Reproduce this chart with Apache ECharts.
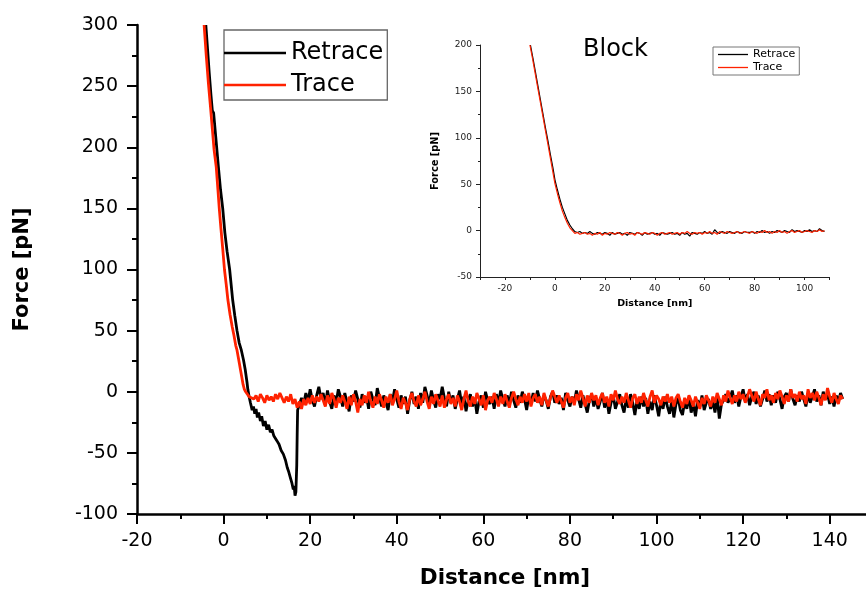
<!DOCTYPE html>
<html><head><meta charset="utf-8">
<script src="https://cdn.jsdelivr.net/npm/echarts@6/dist/echarts.min.js"></script>
<style>html,body{margin:0;padding:0;background:#fff}#c{width:866px;height:590px}</style>
</head><body><div id="c"></div>
<script>
// ---------- DATA ----------
// Main chart: approach part (distance nm, force pN)
const retraceApproach = [[-4.1,300],[-3.7,280],[-3.3,260],[-2.9,242],[-2.6,230],[-2.3,228],[-1.8,208],[-1.2,184],[-0.7,165],[-0.2,150],[0.3,130],[0.8,115],[1.4,100],[2.1,75],[2.6,62],[3.1,50],[3.6,40],[4.1,34],[4.6,26],[5.0,18],[5.4,8],[5.6,2],[5.9,-4],[6.2,-9],[6.6,-15],[6.9,-12],[7.2,-18],[7.5,-14],[7.8,-21],[8.1,-17],[8.5,-24],[8.8,-20],[9.2,-28],[9.6,-24],[10.0,-31],[10.4,-27],[10.8,-33],[11.2,-31],[11.6,-36],[12.0,-35],[12.3,-40],[12.8,-43],[13.3,-48],[13.8,-51],[14.3,-56],[14.7,-62],[15.0,-65],[15.4,-70],[15.8,-75],[16.1,-80],[16.3,-77],[16.5,-85],[16.7,-82],[16.9,-60],[17.0,-35],[17.1,-15]];
const traceApproach = [[-4.5,300],[-4.0,275],[-3.5,252],[-3.0,232],[-2.6,215],[-2.2,198],[-1.7,184],[-1.3,165],[-1.0,150],[-0.6,133],[-0.2,117],[0.2,100],[0.6,88],[1.0,75],[1.5,63],[2.0,53],[2.4,46],[2.8,38],[3.1,34],[3.4,28],[3.7,22],[3.9,18],[4.2,12],[4.5,6],[4.8,2],[5.1,0],[5.5,-2],[5.9,-4],[6.3,-5]];
// Main chart: baseline region
const noiseDist = [7,7.5,8,8.5,9,9.5,10,10.5,11,11.5,12,12.5,13,13.5,14,14.5,15,15.5,16,16.5,17,17.5,18,18.5,19,19.5,20,20.5,21,21.5,22,22.5,23,23.5,24,24.5,25,25.5,26,26.5,27,27.5,28,28.5,29,29.5,30,30.5,31,31.5,32,32.5,33,33.5,34,34.5,35,35.5,36,36.5,37,37.5,38,38.5,39,39.5,40,40.5,41,41.5,42,42.5,43,43.5,44,44.5,45,45.5,46,46.5,47,47.5,48,48.5,49,49.5,50,50.5,51,51.5,52,52.5,53,53.5,54,54.5,55,55.5,56,56.5,57,57.5,58,58.5,59,59.5,60,60.5,61,61.5,62,62.5,63,63.5,64,64.5,65,65.5,66,66.5,67,67.5,68,68.5,69,69.5,70,70.5,71,71.5,72,72.5,73,73.5,74,74.5,75,75.5,76,76.5,77,77.5,78,78.5,79,79.5,80,80.5,81,81.5,82,82.5,83,83.5,84,84.5,85,85.5,86,86.5,87,87.5,88,88.5,89,89.5,90,90.5,91,91.5,92,92.5,93,93.5,94,94.5,95,95.5,96,96.5,97,97.5,98,98.5,99,99.5,100,100.5,101,101.5,102,102.5,103,103.5,104,104.5,105,105.5,106,106.5,107,107.5,108,108.5,109,109.5,110,110.5,111,111.5,112,112.5,113,113.5,114,114.5,115,115.5,116,116.5,117,117.5,118,118.5,119,119.5,120,120.5,121,121.5,122,122.5,123,123.5,124,124.5,125,125.5,126,126.5,127,127.5,128,128.5,129,129.5,130,130.5,131,131.5,132,132.5,133,133.5,134,134.5,135,135.5,136,136.5,137,137.5,138,138.5,139,139.5,140,140.5,141,141.5,142,142.5,143];
const traceNoise = [
-6,-3,-8,-2,-5,-9,-3,-7,-4,-8,
-2,-6,-1,-5,-9,-4,-8,-2,-10,-6,
-13,-8,-14,-6,-11,-5,-10,-3,-9,-4,
-8,-2,-7,-12,-3,-10,-1,-6,-13,-5,
-9,-3,-8,-14,-4,-11,-2,-8,-17,-6,
-11,-3,-9,0,-8,-13,-4,-10,-2,-7,
-13,-4,-9,-2,-11,-6,1,-8,-14,-5,
-9,-15,-6,-1,-8,-12,-3,-11,-6,0,
-8,-14,-4,-10,-2,-7,-12,-3,-13,-6,
-2,-10,-5,-12,-3,-8,-15,-6,1,-8,
-12,-4,-10,-1,-6,-11,-3,-15,-7,-4,
-9,-1,-6,-12,-4,-10,-2,-8,-13,-5,
0,-6,-11,-4,-9,-2,-8,-1,-12,-5,
-2,-9,-4,-11,-1,-7,-12,-5,1,-4,
-9,-3,-8,-13,-5,-1,-9,-4,-11,-2,
-7,1,-5,-12,-3,-9,-1,-7,-3,-11,
-5,-1,-9,-4,-12,-2,-7,1,-6,-10,
-4,-9,-1,-7,-13,-5,-2,-10,-4,-9,
-1,-7,-12,-4,1,-9,-3,-6,-11,-4,
-8,-2,-9,-4,-12,-5,-2,-8,-13,-5,
-10,-3,-7,-12,-4,-9,-14,-5,-10,-3,
-7,-12,-4,-9,-1,-6,-11,-3,-8,1,
-5,-10,-3,-8,0,-6,-2,-9,-4,2,
-3,-8,0,-6,-11,-2,-5,2,-7,-3,
-9,-1,-6,1,-4,-10,-3,-8,2,-5,
-2,-8,0,-6,-3,-10,2,-5,-1,-7,
0,-5,-11,-2,-7,3,-4,-9,-1,-6,
-10,-3,-6];
const retraceNoise = [
null,null,null,null,null,null,null,null,null,null,
null,null,null,null,null,null,null,null,null,null,
null,-14,-5,-10,-1,-8,2,-7,-12,-3,
4,-6,-1,-11,1,-8,-14,-3,-9,2,
-4,-12,-1,-9,-16,-3,-8,1,-6,-13,
-2,-9,-4,-14,0,-6,-11,3,-5,-12,
-3,-9,-15,-2,-8,2,-6,-13,-3,-10,
-4,-18,-7,0,-10,-4,-14,-1,-9,4,
-3,-10,1,-7,-13,-2,-6,4,-5,-12,
0,-9,-3,-14,-6,1,-10,-4,-16,-7,
-2,-12,-5,-18,-8,-3,-13,0,-7,-10,
-4,-14,-2,-9,1,-6,-12,-3,-10,0,
-7,-13,-3,-9,0,-6,-15,-4,-10,-1,
-8,1,-6,-12,-3,-7,-14,-4,0,-9,
-3,-10,-5,-15,-1,-7,-12,-4,-9,1,
-6,-13,-3,-10,-17,-7,-2,-12,-5,-14,
-8,-1,-13,-6,-18,-9,-3,-14,-8,-2,
-11,-17,-6,-13,-2,-9,-19,-7,-14,-4,
-12,-5,-18,-8,-15,-3,-11,-20,-7,-14,
-4,-12,-18,-8,-21,-10,-5,-15,-19,-8,
-14,-4,-17,-10,-20,-7,-12,-3,-15,-9,
-6,-14,-8,-17,-4,-22,-10,-7,-2,-9,
-5,1,-9,-3,-12,-4,2,-8,-2,-11,
-4,0,-10,-3,-12,-6,1,-8,-2,-11,
-3,-9,0,-6,-14,-4,-1,-8,2,-6,
-11,-3,-8,0,-6,-12,-2,-9,-4,2,
-8,-3,-11,0,-6,-2,-10,-4,-12,-3,
-8,-1,-6];
// Inset ("Block")
const insetTraceApproach = [[-10,200],[-9,186],[-8,171],[-7,156],[-6,141],[-5,126],[-4,111],[-3,96],[-2,81],[-1,66],[0,51],[1,40],[2,30],[3,21],[4,14],[5,8],[6,3],[7,0],[7.5,-2]];
const insetRetraceApproach = [[-9.8,200],[-8.8,186],[-7.8,171],[-6.8,156],[-5.8,141],[-4.8,126],[-3.8,111],[-2.8,97],[-1.8,82],[-0.8,68],[0,55],[1,44],[2,34],[3,25],[4,18],[5,11],[6,6],[7,2],[7.5,0]];
const insetDist = [8,9,10,11,12,13,14,15,16,17,18,19,20,21,22,23,24,25,26,27,28,29,30,31,32,33,34,35,36,37,38,39,40,41,42,43,44,45,46,47,48,49,50,51,52,53,54,55,56,57,58,59,60,61,62,63,64,65,66,67,68,69,70,71,72,73,74,75,76,77,78,79,80,81,82,83,84,85,86,87,88,89,90,91,92,93,94,95,96,97,98,99,100,101,102,103,104,105,106,107,108];
const insetTraceNoise = [
-3,-2,-4,-3,-2,-4,-3,-5,-3,-4,
-2,-5,-3,-4,-2,-3,-4,-2,-3,-5,
-3,-2,-4,-3,-5,-2,-3,-4,-2,-3,
-4,-2,-3,-5,-3,-2,-4,-3,-2,-4,
-3,-2,-4,-2,-3,-1,-3,-4,-2,-3,
-2,-4,-2,-3,-1,-3,-2,-4,-1,-2,
-3,-1,-2,-3,-2,-1,-3,-2,-1,-2,
-3,-1,-2,-3,-1,-2,0,-2,-1,-3,
-1,-2,0,-2,-1,-3,-1,0,-2,-1,
0,-2,-1,0,-1,-2,0,-1,1,-1,
0];
const insetRetraceNoise = [
-1,-2,-1,-3,-2,-3,-1,-3,-4,-2,
-3,-4,-2,-3,-5,-2,-4,-3,-2,-4,
-3,-5,-2,-3,-4,-2,-3,-5,-2,-4,
-3,-2,-4,-3,-5,-2,-3,-4,-3,-2,
-4,-3,-5,-2,-4,-3,-6,-2,-3,-4,
-2,-3,-1,-3,-2,-4,1,-2,-3,-1,
-2,-3,-1,-2,-3,-1,-2,-3,-1,-2,
-2,-1,-3,-1,-2,0,-2,-1,-3,-1,
-2,0,-1,-2,0,-1,-2,1,-1,0,
-1,-2,0,-1,1,-1,0,-1,2,0,
-1];
// Tick labels
const mainXMajor = [-20,0,20,40,60,80,100,120,140];
const mainXMinor = [-10,10,30,50,70,90,110,130];
const insetXTicks = [-30,-20,-10,0,10,20,30,40,50,60,70,80,90,100,110];
const insetXLabels = [-20,0,20,40,60,80,100];
const seriesNames = ['Retrace','Trace'];

// ---------- BUILD ----------
function join(approach, xs, ys){
  const out = approach.slice();
  for (let i=0;i<xs.length;i++){ if (ys[i]!==null && ys[i]!==undefined) out.push([xs[i], ys[i]]); }
  return out;
}
const retraceMain = join(retraceApproach, noiseDist, retraceNoise);
const traceMain = join(traceApproach, noiseDist, traceNoise);
const retraceInset = join(insetRetraceApproach, insetDist, insetRetraceNoise);
const traceInset = join(insetTraceApproach, insetDist, insetTraceNoise);

const FONT = "'DejaVu Sans', 'Liberation Sans', Arial, sans-serif";
const RED = '#ff2200';
const chart = echarts.init(document.getElementById('c'), null, {renderer:'canvas'});
chart.setOption({
  animation:false,
  backgroundColor:'#fff',
  textStyle:{fontFamily:FONT, color:'#000'},
  title:{text:'Block', left:583, top:38, padding:0, textStyle:{fontSize:24, fontWeight:'normal', color:'#000', fontFamily:FONT}},
  legend:[
    {data:seriesNames, orient:'vertical', left:224, top:30, padding:[11,4,3,0], itemGap:8, itemWidth:62, itemHeight:22,
     borderColor:'#666', borderWidth:1.3, textStyle:{fontSize:24, color:'#000', fontFamily:FONT},
     icon:'path://M0,0L62,0L62,2.6L0,2.6Z'},
    {data:['Retrace inset','Trace inset'], orient:'vertical', left:713, top:47, padding:[2,4,2,5], itemGap:2, itemWidth:30, itemHeight:12,
     borderColor:'#777', borderWidth:1, textStyle:{fontSize:11, color:'#000', fontFamily:FONT},
     icon:'path://M0,0L30,0L30,1.3L0,1.3Z',
     formatter:function(n){return n.replace(' inset','');}}
  ],
  grid:[
    {left:137, right:-7, top:25, bottom:76, containLabel:false, outerBoundsMode:'none'},
    {left:480, right:36.5, top:45, bottom:313, containLabel:false, outerBoundsMode:'none'}
  ],
  xAxis:[
    {type:'value', gridIndex:0, min:-20, max:150, position:'bottom',
     name:'Distance [nm]', nameLocation:'middle', nameGap:53,
     nameTextStyle:{fontSize:21.5, fontWeight:'bold', color:'#000', fontFamily:FONT},
     axisLine:{onZero:false, lineStyle:{color:'#000', width:2.5}},
     axisTick:{customValues:mainXMajor, length:10, lineStyle:{color:'#000', width:2}},
     axisLabel:{customValues:mainXMajor, fontSize:19, margin:18, color:'#000', fontFamily:FONT},
     splitLine:{show:false}},
    {type:'value', gridIndex:0, min:-20, max:150, position:'bottom',
     axisLine:{show:false, onZero:false},
     axisTick:{customValues:mainXMinor, length:5, lineStyle:{color:'#000', width:2}},
     axisLabel:{show:false}, splitLine:{show:false}},
    {type:'value', gridIndex:1, min:-30, max:110, position:'bottom',
     name:'Distance [nm]', nameLocation:'middle', nameGap:22,
     nameTextStyle:{fontSize:9.5, fontWeight:'bold', color:'#000', fontFamily:FONT},
     axisLine:{onZero:false, lineStyle:{color:'#222', width:1}},
     axisTick:{customValues:insetXTicks, length:3, lineStyle:{color:'#222', width:1}},
     axisLabel:{customValues:insetXLabels, fontSize:9, margin:7, color:'#222', fontFamily:FONT},
     splitLine:{show:false}}
  ],
  yAxis:[
    {type:'value', gridIndex:0, min:-100, max:300, interval:50,
     name:'Force [pN]', nameLocation:'middle', nameGap:104, nameRotate:90,
     nameTextStyle:{fontSize:21, fontWeight:'bold', color:'#000', fontFamily:FONT},
     axisLine:{show:true, onZero:false, lineStyle:{color:'#000', width:2.5}},
     axisTick:{show:true, length:10, lineStyle:{color:'#000', width:2}},
     minorTick:{show:true, splitNumber:2, length:5, lineStyle:{color:'#000', width:2}},
     axisLabel:{fontSize:19, margin:19, color:'#000', fontFamily:FONT},
     splitLine:{show:false}, minorSplitLine:{show:false}},
    {type:'value', gridIndex:1, min:-50, max:200, interval:50,
     name:'Force [pN]', nameLocation:'middle', nameGap:40, nameRotate:90,
     nameTextStyle:{fontSize:9.8, fontWeight:'bold', color:'#000', fontFamily:FONT},
     axisLine:{show:true, onZero:false, lineStyle:{color:'#222', width:1}},
     axisTick:{show:true, length:4, lineStyle:{color:'#222', width:1}},
     minorTick:{show:true, splitNumber:2, length:2, lineStyle:{color:'#222', width:1}},
     axisLabel:{fontSize:9, margin:8, color:'#222', fontFamily:FONT},
     splitLine:{show:false}, minorSplitLine:{show:false}}
  ],
  series:[
    {name:'Retrace', type:'line', xAxisIndex:0, yAxisIndex:0, data:retraceMain, showSymbol:false, symbol:'none',
     lineStyle:{color:'#000', width:2.8}, itemStyle:{color:'#000'}},
    {name:'Trace', type:'line', xAxisIndex:0, yAxisIndex:0, data:traceMain, showSymbol:false, symbol:'none',
     lineStyle:{color:RED, width:2.8}, itemStyle:{color:RED}},
    {name:'Retrace inset', type:'line', xAxisIndex:2, yAxisIndex:1, data:retraceInset, showSymbol:false, symbol:'none',
     lineStyle:{color:'#000', width:1.2}, itemStyle:{color:'#000'}},
    {name:'Trace inset', type:'line', xAxisIndex:2, yAxisIndex:1, data:traceInset, showSymbol:false, symbol:'none',
     lineStyle:{color:RED, width:1.2}, itemStyle:{color:RED}}
  ]
});
</script>
</body></html>
